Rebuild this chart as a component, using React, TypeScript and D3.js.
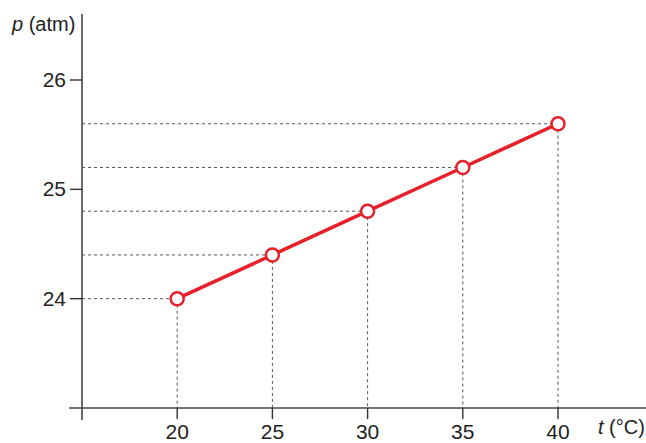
import React from "react";
import * as d3 from "d3";

const temps = [20, 25, 30, 35, 40];
const pressures = [24, 24.4, 24.8, 25.2, 25.6];
const yTicks = [24, 25, 26];
const xTicks = [20, 25, 30, 35, 40];

export default function App() {
  const W = 646, H = 443;
  const x = d3.scaleLinear().domain([15, 40]).range([82, 558]);
  const y = d3.scaleLinear().domain([23, 26]).range([408, 80]);
  const red = "#e8202a";
  const font = "Liberation Sans, Arial, sans-serif";
  const line = d3.line<number>().x((_, i) => x(temps[i])).y((d) => y(d));
  return (
    <svg width={W} height={H} style={{ position: "absolute", left: 0, top: 0 }}>
      <rect width={W} height={H} fill="#fff" />
      {temps.map((t, i) => (
        <g key={t}>
          <line x1={x(15)} x2={x(t)} y1={y(pressures[i])} y2={y(pressures[i])} stroke="#555" strokeWidth={1} strokeDasharray="3,3" />
          <line x1={x(t)} x2={x(t)} y1={y(pressures[i])} y2={y(23)} stroke="#555" strokeWidth={1} strokeDasharray="3,3" />
        </g>
      ))}
      <line x1={69} x2={W} y1={y(23)} y2={y(23)} stroke="#444" strokeWidth={1.6} />
      <line x1={x(15)} x2={x(15)} y1={14} y2={420} stroke="#444" strokeWidth={1.6} />
      {xTicks.map((t) => (
        <g key={t}>
          <line x1={x(t)} x2={x(t)} y1={y(23)} y2={y(23) + 11} stroke="#333" strokeWidth={1.4} />
          <text x={x(t)} y={438.5} textAnchor="middle" fontFamily={font} fontSize={21} fill="#222">{t}</text>
        </g>
      ))}
      {yTicks.map((v) => (
        <g key={v}>
          <line x1={x(15) - 12} x2={x(15)} y1={y(v)} y2={y(v)} stroke="#333" strokeWidth={1.4} />
          <text x={66} y={y(v) + 7} textAnchor="end" fontFamily={font} fontSize={21} fill="#222">{v}</text>
        </g>
      ))}
      <text x={12} y={31} fontFamily={font} fontSize={20} fill="#222">
        <tspan fontStyle="italic">p</tspan> (atm)
      </text>
      <text x={598} y={434} fontFamily={font} fontSize={20} fill="#222">
        <tspan fontStyle="italic">t</tspan> (°C)
      </text>
      <path d={line(pressures) || ""} fill="none" stroke={red} strokeWidth={3.5} />
      {temps.map((t, i) => (
        <circle key={t} cx={x(t)} cy={y(pressures[i])} r={6.5} fill="#fff" stroke={red} strokeWidth={2.5} />
      ))}
    </svg>
  );
}
